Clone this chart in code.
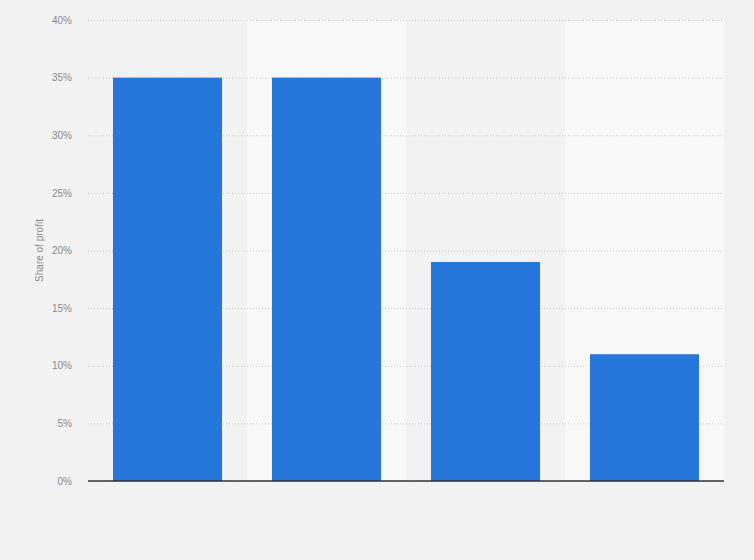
<!DOCTYPE html>
<html lang="en">
  <head>
    <meta charset="UTF-8" />
    <title>Share of profit</title>
    <script src="https://d3js.org/d3.v7.min.js"></script>
    <style>
      html,
      body {
        margin: 0;
        padding: 0;
        background: #f2f2f2;
      }
      svg {
        display: block;
      }
      .axis text {
        font-family: "Liberation Sans", Arial, sans-serif;
        font-size: 10px;
        fill: #8a8a8a;
      }
    </style>
  </head>
  <body>
    <script>
      // data (no category labels shown)
      var categories = ["A", "B", "C", "D"];
      var shares = [35, 35, 19, 11];
      var yTicks = [0, 5, 10, 15, 20, 25, 30, 35, 40];

      var width = 754,
        height = 560;
      var margin = { top: 20, right: 30, bottom: 79, left: 88 };

      var svg = d3
        .select("body")
        .append("svg")
        .attr("width", width)
        .attr("height", height);

      svg
        .append("rect")
        .attr("width", width)
        .attr("height", height)
        .attr("fill", "#f2f2f2");

      var x = d3
        .scaleBand()
        .domain(categories)
        .range([margin.left, width - margin.right])
        .paddingInner(0.314)
        .paddingOuter(0.157);

      // full-width bands for the alternating background
      var xBg = d3
        .scaleBand()
        .domain(categories)
        .range([margin.left, width - margin.right])
        .padding(0);

      var y = d3
        .scaleLinear()
        .domain([0, 40])
        .range([height - margin.bottom, margin.top]);

      svg
        .append("g")
        .selectAll("rect")
        .data(categories)
        .enter()
        .append("rect")
        .attr("x", function (d) {
          return xBg(d);
        })
        .attr("y", margin.top)
        .attr("width", xBg.bandwidth())
        .attr("height", y(0) - margin.top)
        .attr("fill", function (d, i) {
          return i % 2 ? "#f8f8f8" : "#f2f2f2";
        });

      // y axis: labels + dotted grid
      var yAxis = d3
        .axisLeft(y)
        .tickValues(yTicks)
        .tickSize(-(width - margin.left - margin.right))
        .tickPadding(16)
        .tickFormat(function (d) {
          return d + "%";
        });

      var gy = svg
        .append("g")
        .attr("class", "axis")
        .attr("transform", "translate(" + margin.left + ",0)")
        .call(yAxis);
      gy.select(".domain").remove();
      gy.selectAll(".tick line")
        .attr("stroke", "#c8c8c8")
        .attr("stroke-dasharray", "1,2");

      svg
        .append("g")
        .selectAll("rect")
        .data(shares)
        .enter()
        .append("rect")
        .attr("x", function (d, i) {
          return x(categories[i]);
        })
        .attr("y", function (d) {
          return y(d);
        })
        .attr("width", x.bandwidth())
        .attr("height", function (d) {
          return y(0) - y(d);
        })
        .attr("fill", "#2776db");

      // baseline
      svg
        .append("line")
        .attr("x1", margin.left)
        .attr("x2", width - margin.right)
        .attr("y1", y(0))
        .attr("y2", y(0))
        .attr("stroke", "#333")
        .attr("stroke-width", 1.5);

      svg
        .append("text")
        .attr("transform", "translate(43," + (margin.top + y(0)) / 2 + ") rotate(-90)")
        .attr("text-anchor", "middle")
        .attr("font-family", '"Liberation Sans", Arial, sans-serif')
        .attr("font-size", 10)
        .attr("fill", "#8a8a8a")
        .text("Share of profit");
    </script>
  </body>
</html>
